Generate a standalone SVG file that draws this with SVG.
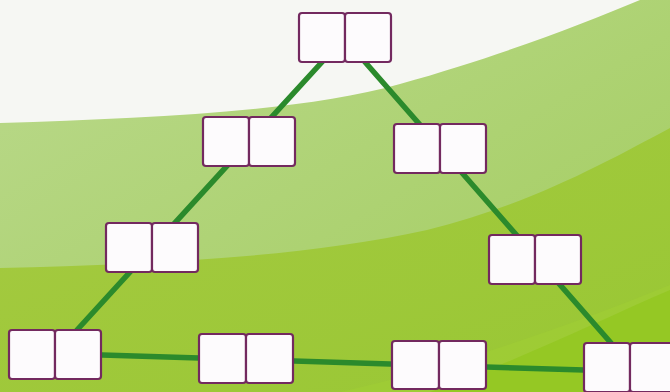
<svg xmlns="http://www.w3.org/2000/svg" width="670" height="392" viewBox="0 0 670 392">
  <defs>
    <linearGradient id="g1" x1="0" y1="0" x2="1" y2="1">
      <stop offset="0" stop-color="#bad98c"/>
      <stop offset="1" stop-color="#a2cc5c"/>
    </linearGradient>
    <linearGradient id="g2" x1="0" y1="0" x2="1" y2="1">
      <stop offset="0" stop-color="#a6ca42"/>
      <stop offset="1" stop-color="#98c733"/>
    </linearGradient>
    <style>
      .cell { fill: #fdfbfd; stroke: #73295f; stroke-width: 2.2; }
      .edge { stroke: #2b8a2c; stroke-width: 5.5; stroke-linecap: round; fill: none; }
    </style>
  </defs>

  <g id="background">
    <rect x="0" y="0" width="670" height="392" fill="#f6f7f3"/>
    <path d="M0,123 C150,118 300,112 400,84 C500,56 580,25 640,0 L670,0 L670,392 L0,392 Z" fill="url(#g1)"/>
    <path d="M0,268 C150,264 300,258 427,230 C530,205 610,160 670,128 L670,392 L0,392 Z" fill="url(#g2)"/>
    <path d="M340,392 C440,370 560,330 670,285 L670,392 Z" fill="#9fcd34" opacity="0.7"/>
    <path d="M430,392 C520,360 600,320 670,290 L670,392 Z" fill="#95c824"/>
  </g>

  <g id="connectors">
    <line class="edge" x1="322" y1="62" x2="77" y2="330"/>
    <line class="edge" x1="365" y1="62" x2="611" y2="343"/>
    <line class="edge" x1="102" y1="355" x2="584" y2="370"/>
  </g>

  <g id="n1"><rect class="cell" x="299" y="13" width="46" height="49" rx="3"/><rect class="cell" x="345" y="13" width="46" height="49" rx="3"/></g>
  <g id="n2"><rect class="cell" x="203" y="117" width="46" height="49" rx="3"/><rect class="cell" x="249" y="117" width="46" height="49" rx="3"/></g>
  <g id="n3"><rect class="cell" x="394" y="124" width="46" height="49" rx="3"/><rect class="cell" x="440" y="124" width="46" height="49" rx="3"/></g>
  <g id="n4"><rect class="cell" x="106" y="223" width="46" height="49" rx="3"/><rect class="cell" x="152" y="223" width="46" height="49" rx="3"/></g>
  <g id="n5"><rect class="cell" x="489" y="235" width="46" height="49" rx="3"/><rect class="cell" x="535" y="235" width="46" height="49" rx="3"/></g>
  <g id="n6"><rect class="cell" x="9" y="330" width="46" height="49" rx="3"/><rect class="cell" x="55" y="330" width="46" height="49" rx="3"/></g>
  <g id="n7"><rect class="cell" x="199" y="334" width="47" height="49" rx="3"/><rect class="cell" x="246" y="334" width="47" height="49" rx="3"/></g>
  <g id="n8"><rect class="cell" x="392" y="341" width="47" height="48" rx="3"/><rect class="cell" x="439" y="341" width="47" height="48" rx="3"/></g>
  <g id="n9"><rect class="cell" x="584" y="343" width="46" height="49" rx="3"/><rect class="cell" x="630" y="343" width="46" height="49" rx="3"/></g>
</svg>
